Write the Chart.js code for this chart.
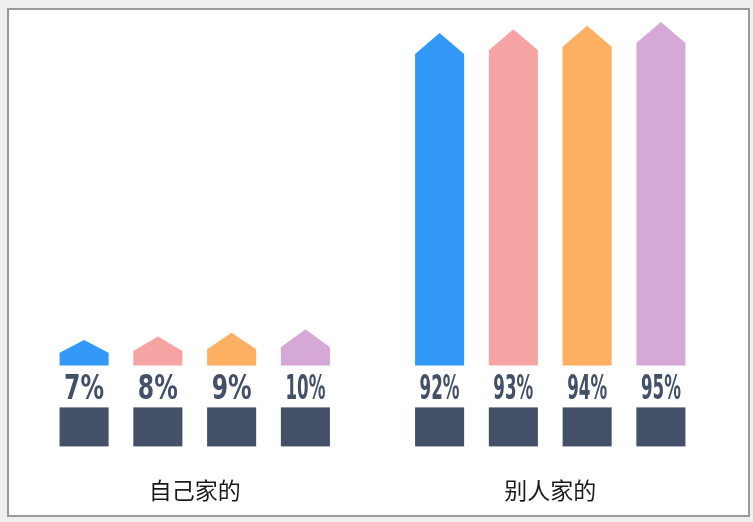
<!DOCTYPE html>
<html>
<head>
<meta charset="utf-8">
<script src="https://cdn.jsdelivr.net/npm/chart.js@4/dist/chart.umd.min.js"></script>
<style>
  html, body { margin: 0; padding: 0; }
  body { width: 753px; height: 522px; background: #efefef; position: relative; overflow: hidden; }
  #frame { position: absolute; left: 7px; top: 8px; width: 739px; height: 505px; background: #fff; border: 2px solid #999; }
  #wrap { position: absolute; left: 0; top: 0; width: 753px; height: 522px; }
</style>
</head>
<body>
<div id="frame"></div>
<div id="wrap"><canvas id="chart"></canvas></div>
<script>
/* data */
var categories = ["自己家的", "别人家的"];
var seriesA = [7, 92];
var seriesB = [8, 93];
var seriesC = [9, 94];
var seriesD = [10, 95];
var colors = ["#3399f8", "#f5a3a3", "#fdb062", "#d6a8d6"];

/* arrow bars + labels + boxes under each bar */
var arrowBars = {
    id: "arrowBars",
    beforeDatasetDraw: function (chart, args) {
        var ctx = chart.ctx;
        var ds = chart.data.datasets[args.index];
        var meta = args.meta;
        meta.data.forEach(function (el, i) {
            var p = el.getProps(["x", "y", "base", "width"], true);
            var left = p.x - p.width / 2;
            var right = p.x + p.width / 2;
            var tri = Math.min(21, (p.base - p.y) * 0.5);

            ctx.save();
            ctx.fillStyle = ds.backgroundColor;
            ctx.beginPath();
            ctx.moveTo(left, p.base);
            ctx.lineTo(left, p.y + tri);
            ctx.lineTo(p.x, p.y);
            ctx.lineTo(right, p.y + tri);
            ctx.lineTo(right, p.base);
            ctx.closePath();
            ctx.fill();

            ctx.fillStyle = "#435068";
            ctx.font = "bold 34px 'Liberation Sans Narrow', 'DejaVu Sans Condensed', sans-serif";
            ctx.textAlign = "center";
            ctx.textBaseline = "alphabetic";
            ctx.fillText(ds.data[i] + "%", p.x, p.base + 34, 40);

            ctx.fillRect(left, p.base + 42, p.width, 39);
            ctx.restore();
        });
        return false;
    }
};

var canvasElement = document.getElementById("chart");

var config =
{
    type : "bar",
    data :
    {
        labels: categories,
        datasets: [
            { label : "A", data : seriesA, backgroundColor : colors[0] },
            { label : "B", data : seriesB, backgroundColor : colors[1] },
            { label : "C", data : seriesC, backgroundColor : colors[2] },
            { label : "D", data : seriesD, backgroundColor : colors[3] },
        ],
    },
    options :
    {
        responsive : true,
        maintainAspectRatio : false,
        animation : false,
        layout : { padding : { left : 17, right : 25, top : 4, bottom : 18 } },
        plugins : {
            legend : { display : false },
            tooltip : { enabled : false },
        },
        datasets : {
            bar : { categoryPercentage : 0.83, barPercentage : 0.665 },
        },
        scales : {
            x : {
                grid : { display : true, drawOnChartArea : false, drawTicks : true, tickLength : 111, tickColor : "rgba(0,0,0,0)" },
                border : { display : false },
                ticks : {
                    padding : 0,
                    color : "#1a1a1a",
                    font : { size : 23, family : "'Noto Sans CJK SC', sans-serif" },
                },
            },
            y : {
                display : false,
                min : 0,
                max : 100,
            },
        },
    },
    plugins : [arrowBars],
};

var chart = new Chart(canvasElement, config);
</script>
</body>
</html>
